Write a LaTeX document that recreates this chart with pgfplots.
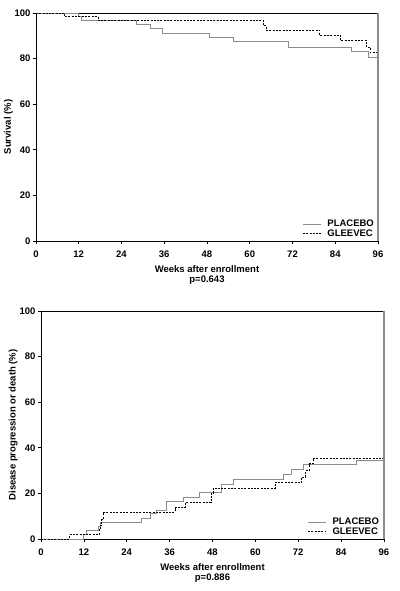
\documentclass[border=0pt]{standalone}
\usepackage{fontspec}
\setmainfont{Liberation Sans}
\usepackage{pgfplots}
\pgfplotsset{compat=1.18}
\definecolor{plac}{RGB}{140,140,140}
\pgfplotsset{
  km/.style={
    scale only axis, width=342pt, height=228pt,
    xmin=0, xmax=96, ymin=0, ymax=100,
    xtick={0,12,...,96}, ytick={0,20,...,100},
    tick align=outside, tick pos=left, major tick length=3pt,
    axis line style={black, line width=0.8pt},
    tick style={black, line width=0.6pt},
    /pgf/number format/assume math mode=true,
    tick label style={font=\fontsize{9.5}{10}\selectfont\bfseries},
    xticklabel style={yshift=-3pt},
    yticklabel style={xshift=1pt},
    label style={font=\fontsize{9.5}{10}\selectfont\bfseries},
    xlabel style={align=center, yshift=-1.5pt},
    ylabel style={yshift=-5pt},
    legend style={draw=none, fill=none, font=\fontsize{9.5}{10}\selectfont\bfseries,
      row sep=-2.5pt, legend cell align=left},
    legend image code/.code={\draw[#1] (0pt,0pt) -- (18pt,0pt); \path (22pt,0pt);},
    clip=false,
  },
  plac/.style={const plot, color=plac, line width=0.9pt},
  glee/.style={const plot, color=black, line width=0.9pt, dash pattern=on 2pt off 1.3pt},
}
\begin{document}
\begin{tikzpicture}[x=1pt,y=1pt]
\path[use as bounding box] (0,0) rectangle (399,591);
% Top: survival
\begin{axis}[km, at={(36pt,350pt)}, anchor=south west,
  ylabel={Survival (\%)}, xlabel={Weeks after enrollment\\p=0.643},
  legend style={at={(0.770,-0.004)}, anchor=south west}]
\addplot[plac] coordinates {(0,100)(11.9,98.7)(12.8,96.8)(28.3,95.0)(32,93.1)(35.5,91.2)(48.8,89.4)(55.3,87.3)(70.8,85.1)(88.6,83.0)(93.3,80.7)(96,80.7)};
\addlegendentry{PLACEBO}
\addplot[glee] coordinates {(0,100)(8.0,98.3)(17.4,96.7)(63.8,94.4)(64.7,92.4)(79.7,90.1)(85.5,87.8)(92.8,84.8)(93.8,82.7)(96,82.7)};
\addlegendentry{GLEEVEC}
\draw[plac, line width=1.5pt] (rel axis cs:1,0) -- (rel axis cs:1,1);
\end{axis}
% Bottom: progression or death
\begin{axis}[km, width=343pt, at={(41pt,52pt)}, anchor=south west,
  ylabel={Disease progression or death (\%)}, xlabel={Weeks after enrollment\\p=0.886},
  legend style={at={(0.768,-0.004)}, anchor=south west}]
\addplot[plac] coordinates {(0,0)(12,1.9)(12.6,3.8)(16,5.6)(16.5,7.3)(28.2,9.1)(30.5,11.0)(32.4,12.7)(35.2,16.4)(39.8,18.3)(44.3,20.2)(50.4,24.1)(53.8,26.1)(67.8,28.1)(70.2,30.3)(73.4,32.5)(88.2,34.5)(96,34.5)};
\addlegendentry{PLACEBO}
\addplot[glee] coordinates {(0,0)(8,1.9)(16.3,4)(16.6,6)(17.0,8.5)(17.4,11.8)(37.5,13.8)(40.3,15.9)(47.6,20.0)(48.2,22.3)(65.5,24.8)(73.0,27.2)(74.1,30.0)(75.1,33.0)(76.2,35.5)(96,35.5)(96,39)};
\addlegendentry{GLEEVEC}
\draw[plac, line width=1.5pt] (rel axis cs:1,0) -- (rel axis cs:1,1);
\end{axis}
\end{tikzpicture}
\end{document}
